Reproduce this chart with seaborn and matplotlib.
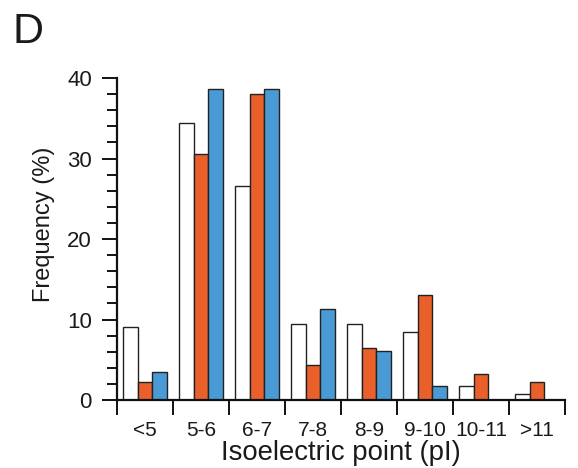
import numpy as np
import pandas as pd
import seaborn as sns
import matplotlib.pyplot as plt
from matplotlib.ticker import MultipleLocator

categories = ['<5', '5-6', '6-7', '7-8', '8-9', '9-10', '10-11', '>11']
series_names = ['Set 1', 'Set 2', 'Set 3']
white_vals = [9.1, 34.4, 26.6, 9.4, 9.5, 8.4, 1.7, 0.7]
orange_vals = [2.2, 30.5, 38.0, 4.3, 6.5, 13.0, 3.2, 2.2]
blue_vals = [3.5, 38.6, 38.6, 11.3, 6.1, 1.7, 0.0, 0.0]

df = pd.DataFrame({
    'pI': categories * 3,
    'freq': white_vals + orange_vals + blue_vals,
    'set': [n for n in series_names for _ in categories],
})

sns.set_style('ticks')
plt.rcParams['font.family'] = ['Liberation Sans', 'DejaVu Sans']
plt.rcParams['text.color'] = '#1a1a1a'
plt.rcParams['axes.labelcolor'] = '#1a1a1a'
plt.rcParams['xtick.labelcolor'] = '#1a1a1a'
plt.rcParams['ytick.labelcolor'] = '#1a1a1a'

fig = plt.figure(figsize=(5.78, 4.68), dpi=100)
ax = fig.add_axes([0.2024, 0.1453, 0.775, 0.688])

palette = {'Set 1': 'white', 'Set 2': '#E9602B', 'Set 3': '#4A9BD5'}
sns.barplot(data=df, x='pI', y='freq', hue='set', order=categories,
            hue_order=series_names, palette=palette, width=0.78,
            edgecolor='#222222', linewidth=1.0, saturation=1,
            legend=False, ax=ax)

ax.set_xlim(-0.5, len(categories) - 0.5)
ax.set_ylim(0, 40)
sns.despine(ax=ax)
for s in ('left', 'bottom'):
    ax.spines[s].set_linewidth(1.6)
    ax.spines[s].set_color('#111111')

ax.yaxis.set_major_locator(MultipleLocator(10))
ax.yaxis.set_minor_locator(MultipleLocator(2))
ax.tick_params(axis='y', which='major', length=11, width=1.4, labelsize=16,
               pad=7, color='#111111')
ax.tick_params(axis='y', which='minor', length=7, width=1.4, color='#111111')

ax.set_xticks(range(len(categories)))
ax.set_xticklabels(categories)
ax.set_xticks(np.arange(-0.5, len(categories)), minor=True)
ax.tick_params(axis='x', which='major', length=0, labelsize=15, pad=15)
ax.tick_params(axis='x', which='minor', length=11, width=1.4, color='#111111')

ax.set_xlabel('Isoelectric point (pI)', fontsize=19.8, labelpad=0)
ax.set_ylabel('Frequency (%)', fontsize=17)
ax.yaxis.set_label_coords(-0.138, 0.545)

fig.text(0.022, 0.975, 'D', fontsize=31, va='top', ha='left')

fig.savefig('out.png', dpi=100, facecolor='white')
